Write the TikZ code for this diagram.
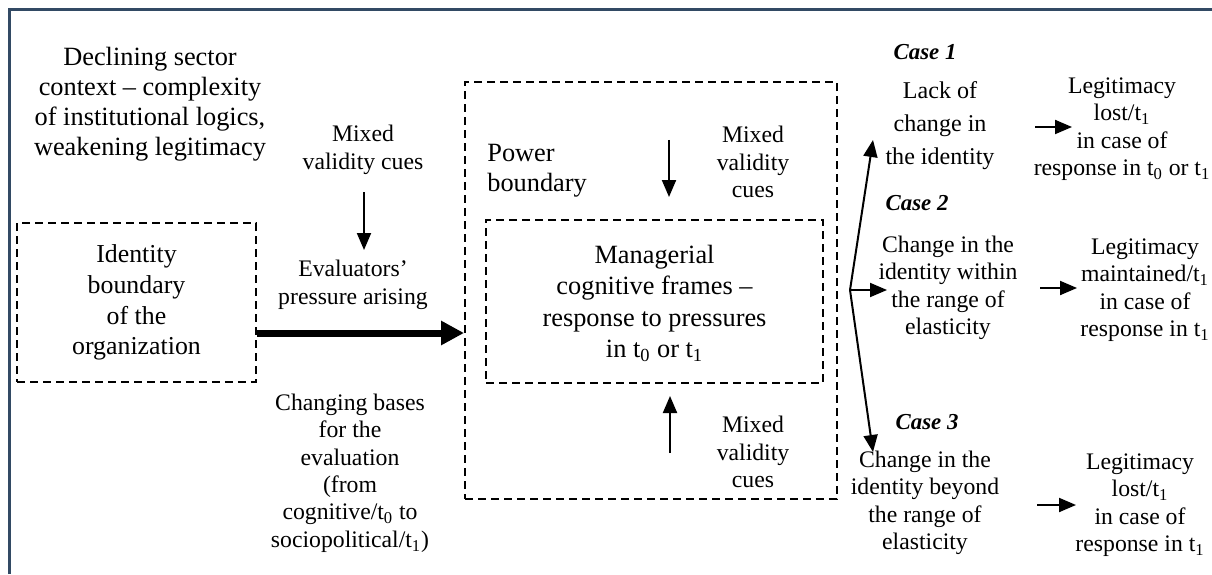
\documentclass[tikz,border=0pt]{standalone}
\usepackage{fontspec}
\setmainfont{Liberation Serif}
\usetikzlibrary{arrows.meta}
\definecolor{framecol}{RGB}{50,74,100}
\newcommand{\tsub}[1]{\smash{\textsubscript{#1}}}

\tikzset{
  lbl/.style={align=center, inner sep=0pt},
  bigtxt/.style={lbl, font=\fontsize{15}{17}\selectfont},
  smalltxt/.style={lbl, font=\fontsize{13.5}{15.6}\selectfont},
  casetxt/.style={lbl, font=\fontsize{13}{15}\selectfont\bfseries\itshape},
  bound/.style={draw, dash pattern=on 0.16cm off 0.1cm, line width=0.04cm},
  arr/.style={-{Triangle[length=0.34cm,width=0.28cm]}, line width=0.04cm},
  fatarr/.style={-{Triangle[length=0.46cm,width=0.46cm]}, line width=0.14cm},
}

\begin{document}
\begin{tikzpicture}[x=0.02cm, y=-0.02cm]
      \useasboundingbox (0,0) rectangle (1212,574);

      % Frame
      \draw [framecol, line width=0.05cm] (9.5,574) -- (9.5,9.5) -- (1212,9.5);

      % Left part
      \node [bigtxt] (context) at (150,104) {Declining sector\\context -- complexity\\of institutional logics,\\weakening legitimacy};
      \node [bound, lbl, font=\fontsize{14.7}{17.5}\selectfont, minimum width=4.78cm, minimum height=3.18cm] (identity) at (136.5,302.5) {Identity\\boundary\\of the\\organization};
      \node [smalltxt] (cuesleft) at (363,150) {Mixed\\validity cues};
      \node [smalltxt] (pressure) at (353,285) {Evaluators’\\pressure arising};
      \node [smalltxt] (bases) at (350,473) {Changing bases\\for the\\evaluation\\(from\\cognitive/t\tsub{0} to\\sociopolitical/t\tsub{1})};

      % Boundaries
      \node [bound, minimum width=7.44cm, minimum height=8.34cm] (power) at (651,290.5) {};
      \node [bigtxt, align=left, anchor=west] (powerlbl) at (487,171) {Power\\boundary};
      \node [bound, lbl, font=\fontsize{15}{18}\selectfont, minimum width=6.74cm, minimum height=3.26cm] (frames) at (654.5,301.5) {Managerial\\cognitive frames --\\response to pressures\\in t\tsub{0} or t\tsub{1}};
      \node [smalltxt] (cuestop) at (753,162) {Mixed\\validity\\cues};
      \node [smalltxt] (cuesbot) at (753,452) {Mixed\\validity\\cues};

      % Cases
      \node [casetxt] (case1) at (925,52) {Case 1};
      \node [lbl, font=\fontsize{13.7}{18.8}\selectfont] (nochange) at (940,126) {Lack of\\change in\\the identity};
      \node [smalltxt] (lost1) at (1122,129) {Legitimacy\\lost/t\tsub{1}\\in case of\\response in t\tsub{0} or t\tsub{1}};
      \node [casetxt] (case2) at (917,203) {Case 2};
      \node [smalltxt] (within) at (948,288) {Change in the\\identity within\\the range of\\elasticity};
      \node [smalltxt] (kept) at (1145,290) {Legitimacy\\maintained/t\tsub{1}\\in case of\\response in t\tsub{1}};
      \node [casetxt] (case3) at (927,422) {Case 3};
      \node [smalltxt] (beyond) at (925,503) {Change in the\\identity beyond\\the range of\\elasticity};
      \node [smalltxt] (lost3) at (1140,505) {Legitimacy\\lost/t\tsub{1}\\in case of\\response in t\tsub{1}};

      % Arrow ends
      \coordinate (flow) at (0,333);
      \coordinate (cuesleftA) at (364,192);
      \coordinate (cuesleftB) at (364,250);
      \coordinate (cuestopA) at (669,140);
      \coordinate (cuestopB) at (669,197);
      \coordinate (cuesbotA) at (670,453);
      \coordinate (cuesbotB) at (670,396);
      \coordinate (fork) at (850,290);
      \coordinate (tip1) at (873,140);
      \coordinate (tip2) at (887,290);
      \coordinate (tip3) at (873,452);
      \coordinate (res1A) at (1035,127);
      \coordinate (res1B) at (1072,127);
      \coordinate (res2A) at (1040,288);
      \coordinate (res2B) at (1077,288);
      \coordinate (res3A) at (1037,505);
      \coordinate (res3B) at (1076,505);

      % Arrows
      \draw [fatarr] (identity.east |- flow) -- (power.west |- flow);
      \draw [arr] (cuesleftA) -- (cuesleftB);
      \draw [arr] (cuestopA) -- (cuestopB);
      \draw [arr] (cuesbotA) -- (cuesbotB);
      \draw [arr] (fork) -- (tip1);
      \draw [arr] (fork) -- (tip2);
      \draw [arr] (fork) -- (tip3);
      \draw [arr] (res1A) -- (res1B);
      \draw [arr] (res2A) -- (res2B);
      \draw [arr] (res3A) -- (res3B);
\end{tikzpicture}
\end{document}
